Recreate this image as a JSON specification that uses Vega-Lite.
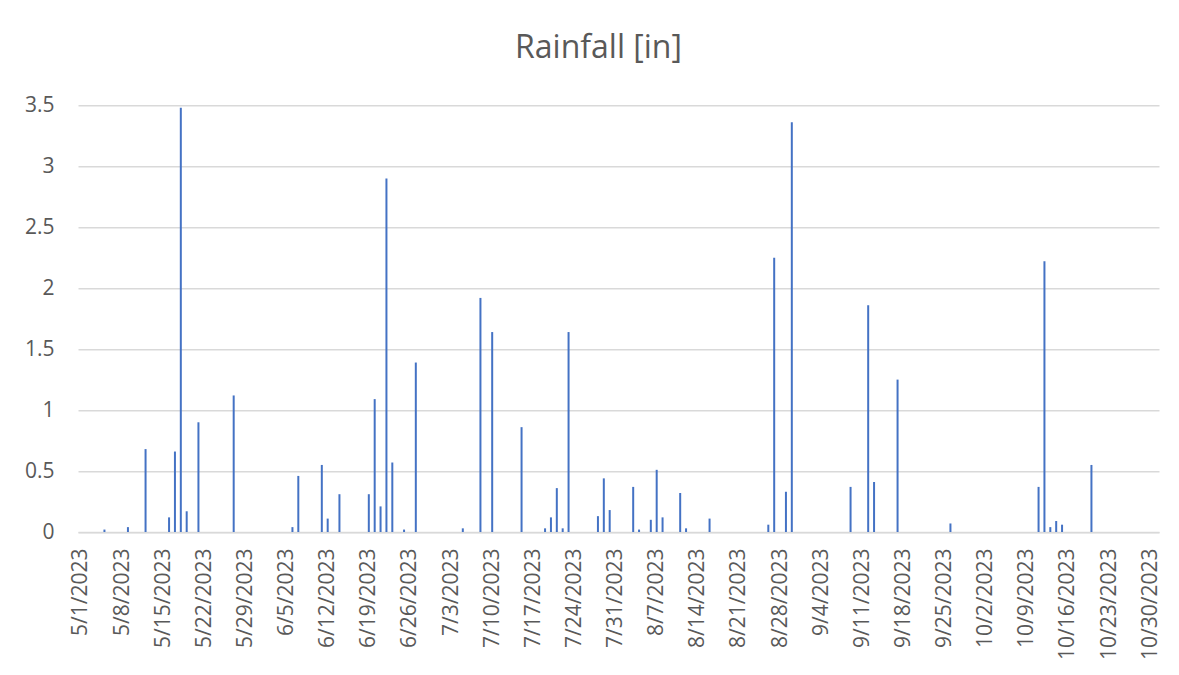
{
  "$schema": "https://vega.github.io/schema/vega-lite/v6.json",
  "autosize": "none",
  "width": 1081,
  "height": 426.7,
  "padding": {"left": 78, "top": 105.3, "right": 20, "bottom": 143},
  "background": "white",
  "title": {
    "text": "Rainfall [in]",
    "font": "Open Sans",
    "fontSize": 32,
    "fontWeight": "normal",
    "color": "#595959",
    "anchor": "middle",
    "frame": "group",
    "baseline": "alphabetic",
    "dx": -20,
    "offset": 4
  },
  "config": {
    "view": {"stroke": null},
    "axis": {"labelFont": "Open Sans", "labelFontSize": 21, "labelColor": "#595959"}
  },
  "data": {
    "values": [
      {"date": "2023-05-05", "rain": 0.02},
      {"date": "2023-05-09", "rain": 0.04},
      {"date": "2023-05-12", "rain": 0.68},
      {"date": "2023-05-16", "rain": 0.12},
      {"date": "2023-05-17", "rain": 0.66},
      {"date": "2023-05-18", "rain": 3.48},
      {"date": "2023-05-19", "rain": 0.17},
      {"date": "2023-05-21", "rain": 0.90},
      {"date": "2023-05-27", "rain": 1.12},
      {"date": "2023-06-06", "rain": 0.04},
      {"date": "2023-06-07", "rain": 0.46},
      {"date": "2023-06-11", "rain": 0.55},
      {"date": "2023-06-12", "rain": 0.11},
      {"date": "2023-06-14", "rain": 0.31},
      {"date": "2023-06-19", "rain": 0.31},
      {"date": "2023-06-20", "rain": 1.09},
      {"date": "2023-06-21", "rain": 0.21},
      {"date": "2023-06-22", "rain": 2.90},
      {"date": "2023-06-23", "rain": 0.57},
      {"date": "2023-06-25", "rain": 0.02},
      {"date": "2023-06-27", "rain": 1.39},
      {"date": "2023-07-05", "rain": 0.03},
      {"date": "2023-07-08", "rain": 1.92},
      {"date": "2023-07-10", "rain": 1.64},
      {"date": "2023-07-15", "rain": 0.86},
      {"date": "2023-07-19", "rain": 0.03},
      {"date": "2023-07-20", "rain": 0.12},
      {"date": "2023-07-21", "rain": 0.36},
      {"date": "2023-07-22", "rain": 0.03},
      {"date": "2023-07-23", "rain": 1.64},
      {"date": "2023-07-28", "rain": 0.13},
      {"date": "2023-07-29", "rain": 0.44},
      {"date": "2023-07-30", "rain": 0.18},
      {"date": "2023-08-03", "rain": 0.37},
      {"date": "2023-08-04", "rain": 0.02},
      {"date": "2023-08-06", "rain": 0.10},
      {"date": "2023-08-07", "rain": 0.51},
      {"date": "2023-08-08", "rain": 0.12},
      {"date": "2023-08-11", "rain": 0.32},
      {"date": "2023-08-12", "rain": 0.03},
      {"date": "2023-08-16", "rain": 0.11},
      {"date": "2023-08-26", "rain": 0.06},
      {"date": "2023-08-27", "rain": 2.25},
      {"date": "2023-08-29", "rain": 0.33},
      {"date": "2023-08-30", "rain": 3.36},
      {"date": "2023-09-09", "rain": 0.37},
      {"date": "2023-09-12", "rain": 1.86},
      {"date": "2023-09-13", "rain": 0.41},
      {"date": "2023-09-17", "rain": 1.25},
      {"date": "2023-09-26", "rain": 0.07},
      {"date": "2023-10-11", "rain": 0.37},
      {"date": "2023-10-12", "rain": 2.22},
      {"date": "2023-10-13", "rain": 0.04},
      {"date": "2023-10-14", "rain": 0.09},
      {"date": "2023-10-15", "rain": 0.06},
      {"date": "2023-10-20", "rain": 0.55}
    ]
  },
  "mark": {"type": "bar", "color": "#4472C4", "width": 2},
  "encoding": {
    "x": {
      "field": "date",
      "type": "temporal",
      "timeUnit": "utcyearmonthdate",
      "scale": {
        "domain": [
          {"year": 2023, "month": 5, "date": 1, "utc": true},
          {"year": 2023, "month": 11, "date": 1, "utc": true}
        ]
      },
      "axis": {
        "title": null,
        "labelExpr": "utcFormat(datum.value, '%-m/%-d/%Y')",
        "labelAngle": -90,
        "labelPadding": 16,
        "labelOverlap": false,
        "ticks": false,
        "grid": false,
        "domainColor": "#d9d9d9",
        "domainWidth": 1.5,
        "values": [
          {"year": 2023, "month": 5, "date": 1, "hours": 12, "utc": true},
          {"year": 2023, "month": 5, "date": 8, "hours": 12, "utc": true},
          {"year": 2023, "month": 5, "date": 15, "hours": 12, "utc": true},
          {"year": 2023, "month": 5, "date": 22, "hours": 12, "utc": true},
          {"year": 2023, "month": 5, "date": 29, "hours": 12, "utc": true},
          {"year": 2023, "month": 6, "date": 5, "hours": 12, "utc": true},
          {"year": 2023, "month": 6, "date": 12, "hours": 12, "utc": true},
          {"year": 2023, "month": 6, "date": 19, "hours": 12, "utc": true},
          {"year": 2023, "month": 6, "date": 26, "hours": 12, "utc": true},
          {"year": 2023, "month": 7, "date": 3, "hours": 12, "utc": true},
          {"year": 2023, "month": 7, "date": 10, "hours": 12, "utc": true},
          {"year": 2023, "month": 7, "date": 17, "hours": 12, "utc": true},
          {"year": 2023, "month": 7, "date": 24, "hours": 12, "utc": true},
          {"year": 2023, "month": 7, "date": 31, "hours": 12, "utc": true},
          {"year": 2023, "month": 8, "date": 7, "hours": 12, "utc": true},
          {"year": 2023, "month": 8, "date": 14, "hours": 12, "utc": true},
          {"year": 2023, "month": 8, "date": 21, "hours": 12, "utc": true},
          {"year": 2023, "month": 8, "date": 28, "hours": 12, "utc": true},
          {"year": 2023, "month": 9, "date": 4, "hours": 12, "utc": true},
          {"year": 2023, "month": 9, "date": 11, "hours": 12, "utc": true},
          {"year": 2023, "month": 9, "date": 18, "hours": 12, "utc": true},
          {"year": 2023, "month": 9, "date": 25, "hours": 12, "utc": true},
          {"year": 2023, "month": 10, "date": 2, "hours": 12, "utc": true},
          {"year": 2023, "month": 10, "date": 9, "hours": 12, "utc": true},
          {"year": 2023, "month": 10, "date": 16, "hours": 12, "utc": true},
          {"year": 2023, "month": 10, "date": 23, "hours": 12, "utc": true},
          {"year": 2023, "month": 10, "date": 30, "hours": 12, "utc": true}
        ]
      }
    },
    "y": {
      "field": "rain",
      "type": "quantitative",
      "scale": {"domain": [0, 3.5], "nice": false},
      "axis": {
        "title": null,
        "values": [0, 0.5, 1, 1.5, 2, 2.5, 3, 3.5],
        "format": "~g",
        "ticks": false,
        "domain": false,
        "labelPadding": 24,
        "gridColor": "#d9d9d9",
        "gridWidth": 1.5
      }
    }
  }
}
